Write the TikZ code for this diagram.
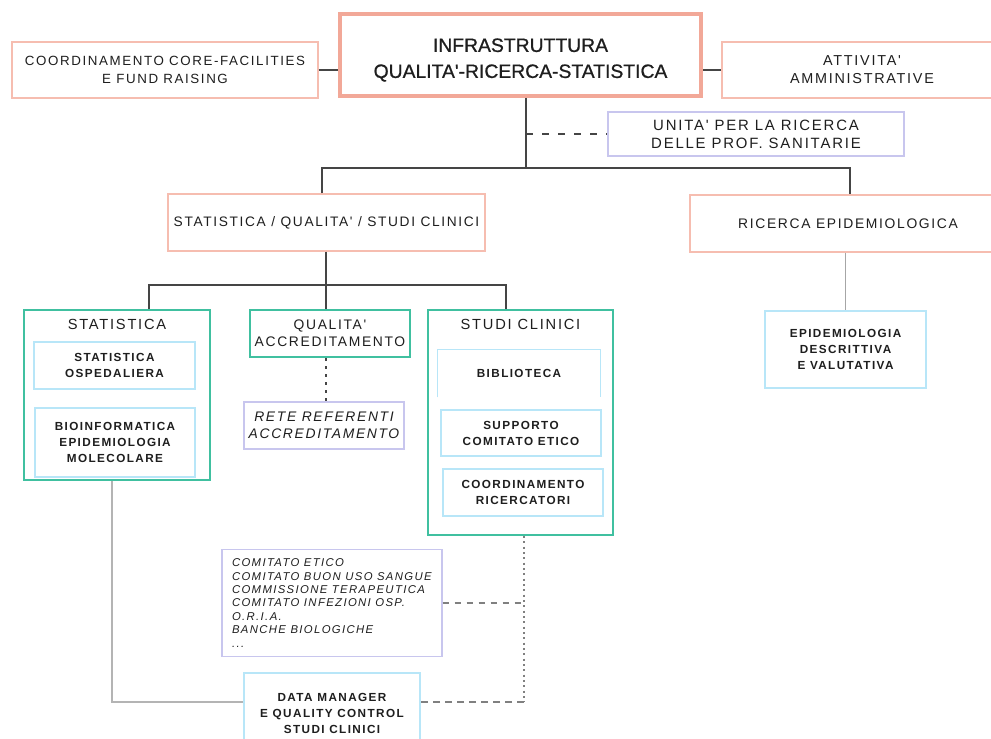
\documentclass[tikz,border=0pt]{standalone}
\usepackage{fontspec}
\setmainfont{Liberation Sans}
\newfontfamily\spc[LetterSpace=12]{Liberation Sans}
\newfontfamily\mainf[FakeBold=0.8]{Liberation Sans}
\definecolor{salmon}{HTML}{F6BDB0}
\definecolor{salmonD}{HTML}{F2A898}
\definecolor{tealg}{HTML}{40C0A0}
\definecolor{skyb}{HTML}{B8E6F8}
\definecolor{lav}{HTML}{C8C6EE}
\definecolor{txt}{HTML}{1E1E1E}
\definecolor{ln}{HTML}{454545}
\definecolor{lng}{HTML}{B4B4B4}
\begin{document}
\begin{tikzpicture}[x=0.75pt,y=-0.75pt,
  wh/.style 2 args={minimum width=#1*0.75pt, minimum height=#2*0.75pt},
  base/.style={inner sep=0pt, align=center, text=txt},
  topbox/.style={base, draw=salmon, line width=1.1pt, font=\spc\fontsize{10}{13.5}\selectfont},
  mainbox/.style={base, draw=salmonD, line width=3pt, font=\mainf\fontsize{14.5}{19.5}\selectfont},
  lavbox/.style={base, draw=lav, line width=1pt},
  grbox/.style={base, draw=tealg, line width=1.5pt},
  inbox/.style={base, draw=skyb, line width=0.9pt, font=\spc\bfseries\fontsize{8.8}{12}\selectfont},
  gtitle/.style={base, font=\spc\fontsize{11}{13}\selectfont},
  conn/.style={draw=ln, line width=1.4pt},
  connl/.style={draw=lng, line width=1.4pt},
  dotc/.style={draw=gray, line width=1pt, dash pattern=on 1.5pt off 2.5pt},
  dashc/.style={draw=gray, line width=0.9pt, dash pattern=on 5pt off 4pt}
]
\clip (0,0) rectangle (991,738);
\fill[white] (0,0) rectangle (991,738);

% top row
\node[mainbox, wh={361}{82}] (main) at (520.5,55) {\parbox{250pt}{\centering\vspace*{7.5pt}INFRASTRUTTURA\\QUALITA'-RICERCA-STATISTICA}};
\node[topbox, wh={306}{56}] (left) at (165,70) {COORDINAMENTO CORE-FACILITIES\\E FUND RAISING};
\node[topbox, wh={280}{56}, font=\spc\fontsize{10.8}{13.5}\selectfont] (right) at (862,70) {ATTIVITA'\\AMMINISTRATIVE};
\node[lavbox, wh={296}{44}, font=\spc\fontsize{11.2}{13.5}\selectfont] (unita) at (756,134) {UNITA' PER LA RICERCA\\DELLE PROF. SANITARIE};

% second row
\node[topbox, wh={317}{57}, font=\spc\fontsize{10.3}{13}\selectfont] (sqs) at (326.5,222.5) {STATISTICA / QUALITA' / STUDI CLINICI};
\node[topbox, wh={316}{57}, font=\spc\fontsize{10.4}{13}\selectfont] (ric) at (848,223.5) {RICERCA EPIDEMIOLOGICA};

% statistica
\node[grbox, wh={186}{170}] (stat) at (117,395) {};
\node[gtitle] (statT) at (117,324) {STATISTICA};
\node[inbox, wh={161}{47}] (statosp) at (114.5,365.5) {STATISTICA\\OSPEDALIERA};
\node[inbox, wh={160}{69}] (bioinf) at (115,442.5) {BIOINFORMATICA\\EPIDEMIOLOGIA\\MOLECOLARE};

% qualita
\node[grbox, wh={160}{47}, font=\spc\fontsize{10.4}{13}\selectfont] (qual) at (330,333.5) {QUALITA'\\ACCREDITAMENTO};
\node[lavbox, wh={160}{47}, font=\spc\itshape\fontsize{10.4}{13}\selectfont] (rete) at (324,425.5) {RETE REFERENTI\\ACCREDITAMENTO};

% studi clinici
\node[grbox, wh={185}{225}] (studi) at (520.5,422.5) {};
\node[gtitle] (studiT) at (520.5,324) {STUDI CLINICI};
\node[base, wh={162}{47}, font=\spc\bfseries\fontsize{8.8}{12}\selectfont] (biblio) at (519,373.5) {BIBLIOTECA};
\draw[draw=skyb, line width=0.9pt] (biblio.south west) -- (biblio.north west) -- (biblio.north east) -- (biblio.south east);
\node[inbox, wh={160}{46}] (supp) at (521,433) {SUPPORTO\\COMITATO ETICO};
\node[inbox, wh={160}{47}] (coord) at (523,492.5) {COORDINAMENTO\\RICERCATORI};

% epidemiologia
\node[inbox, wh={161}{77}] (epid) at (845.5,349.5) {EPIDEMIOLOGIA\\DESCRITTIVA\\E VALUTATIVA};

% bottom
\node[lavbox, wh={220}{107}, align=left, font=\spc\itshape\fontsize{8.5}{10.1}\selectfont] (comit) at (332,603)
 {\parbox{200\dimexpr0.75pt\relax}{COMITATO ETICO\\COMITATO BUON USO SANGUE\\COMMISSIONE TERAPEUTICA\\COMITATO INFEZIONI OSP.\\O.R.I.A.\\BANCHE BIOLOGICHE\\...}};
\node[inbox, wh={176}{80}] (datam) at (332,713) {DATA MANAGER\\E QUALITY CONTROL\\STUDI CLINICI};

% connectors top
\draw[conn] (left.east) -- (left.east -| main.west);
\draw[conn] (right.west -| main.east) -- (right.west);
\coordinate (j1) at (526,168);
\draw[conn] (j1 |- main.south) -- (j1);
\draw[ln, line width=2pt, dash pattern=on 5.5pt off 6.5pt] (unita.west -| j1) -- (unita.west);
\coordinate (jl) at (322,168);
\coordinate (jr) at (850,168);
\draw[conn] (jl |- sqs.north) -- (jl) -- (jr) -- (jr |- ric.north);

% level 3
\coordinate (j2) at (326,285);
\coordinate (j3l) at (149,285);
\coordinate (j3r) at (506,285);
\draw[conn] (j2 |- sqs.south) -- (j2);
\draw[conn] (j3l |- stat.north) -- (j3l) -- (j3r) -- (j3r |- studi.north);
\draw[conn] (j2) -- (j2 |- qual.north);
\draw[connl, draw=gray!70] (epid.north |- ric.south) -- (epid.north);
\draw[ln, line width=1.5pt, dash pattern=on 2.5pt off 3.5pt] (j2 |- qual.south) -- (j2 |- rete.north);

% bottom connectors
\coordinate (c1) at (112,702);
\draw[connl] (c1 |- stat.south) -- (c1) -- (c1 -| datam.west);
\coordinate (d1) at (524,702);
\coordinate (e1) at (524,603);
\draw[dotc] (d1 |- studi.south) -- (d1);
\draw[dashc] (d1) -- (d1 -| datam.east);
\draw[dashc] (comit.east |- e1) -- (e1);
\end{tikzpicture}
\end{document}
